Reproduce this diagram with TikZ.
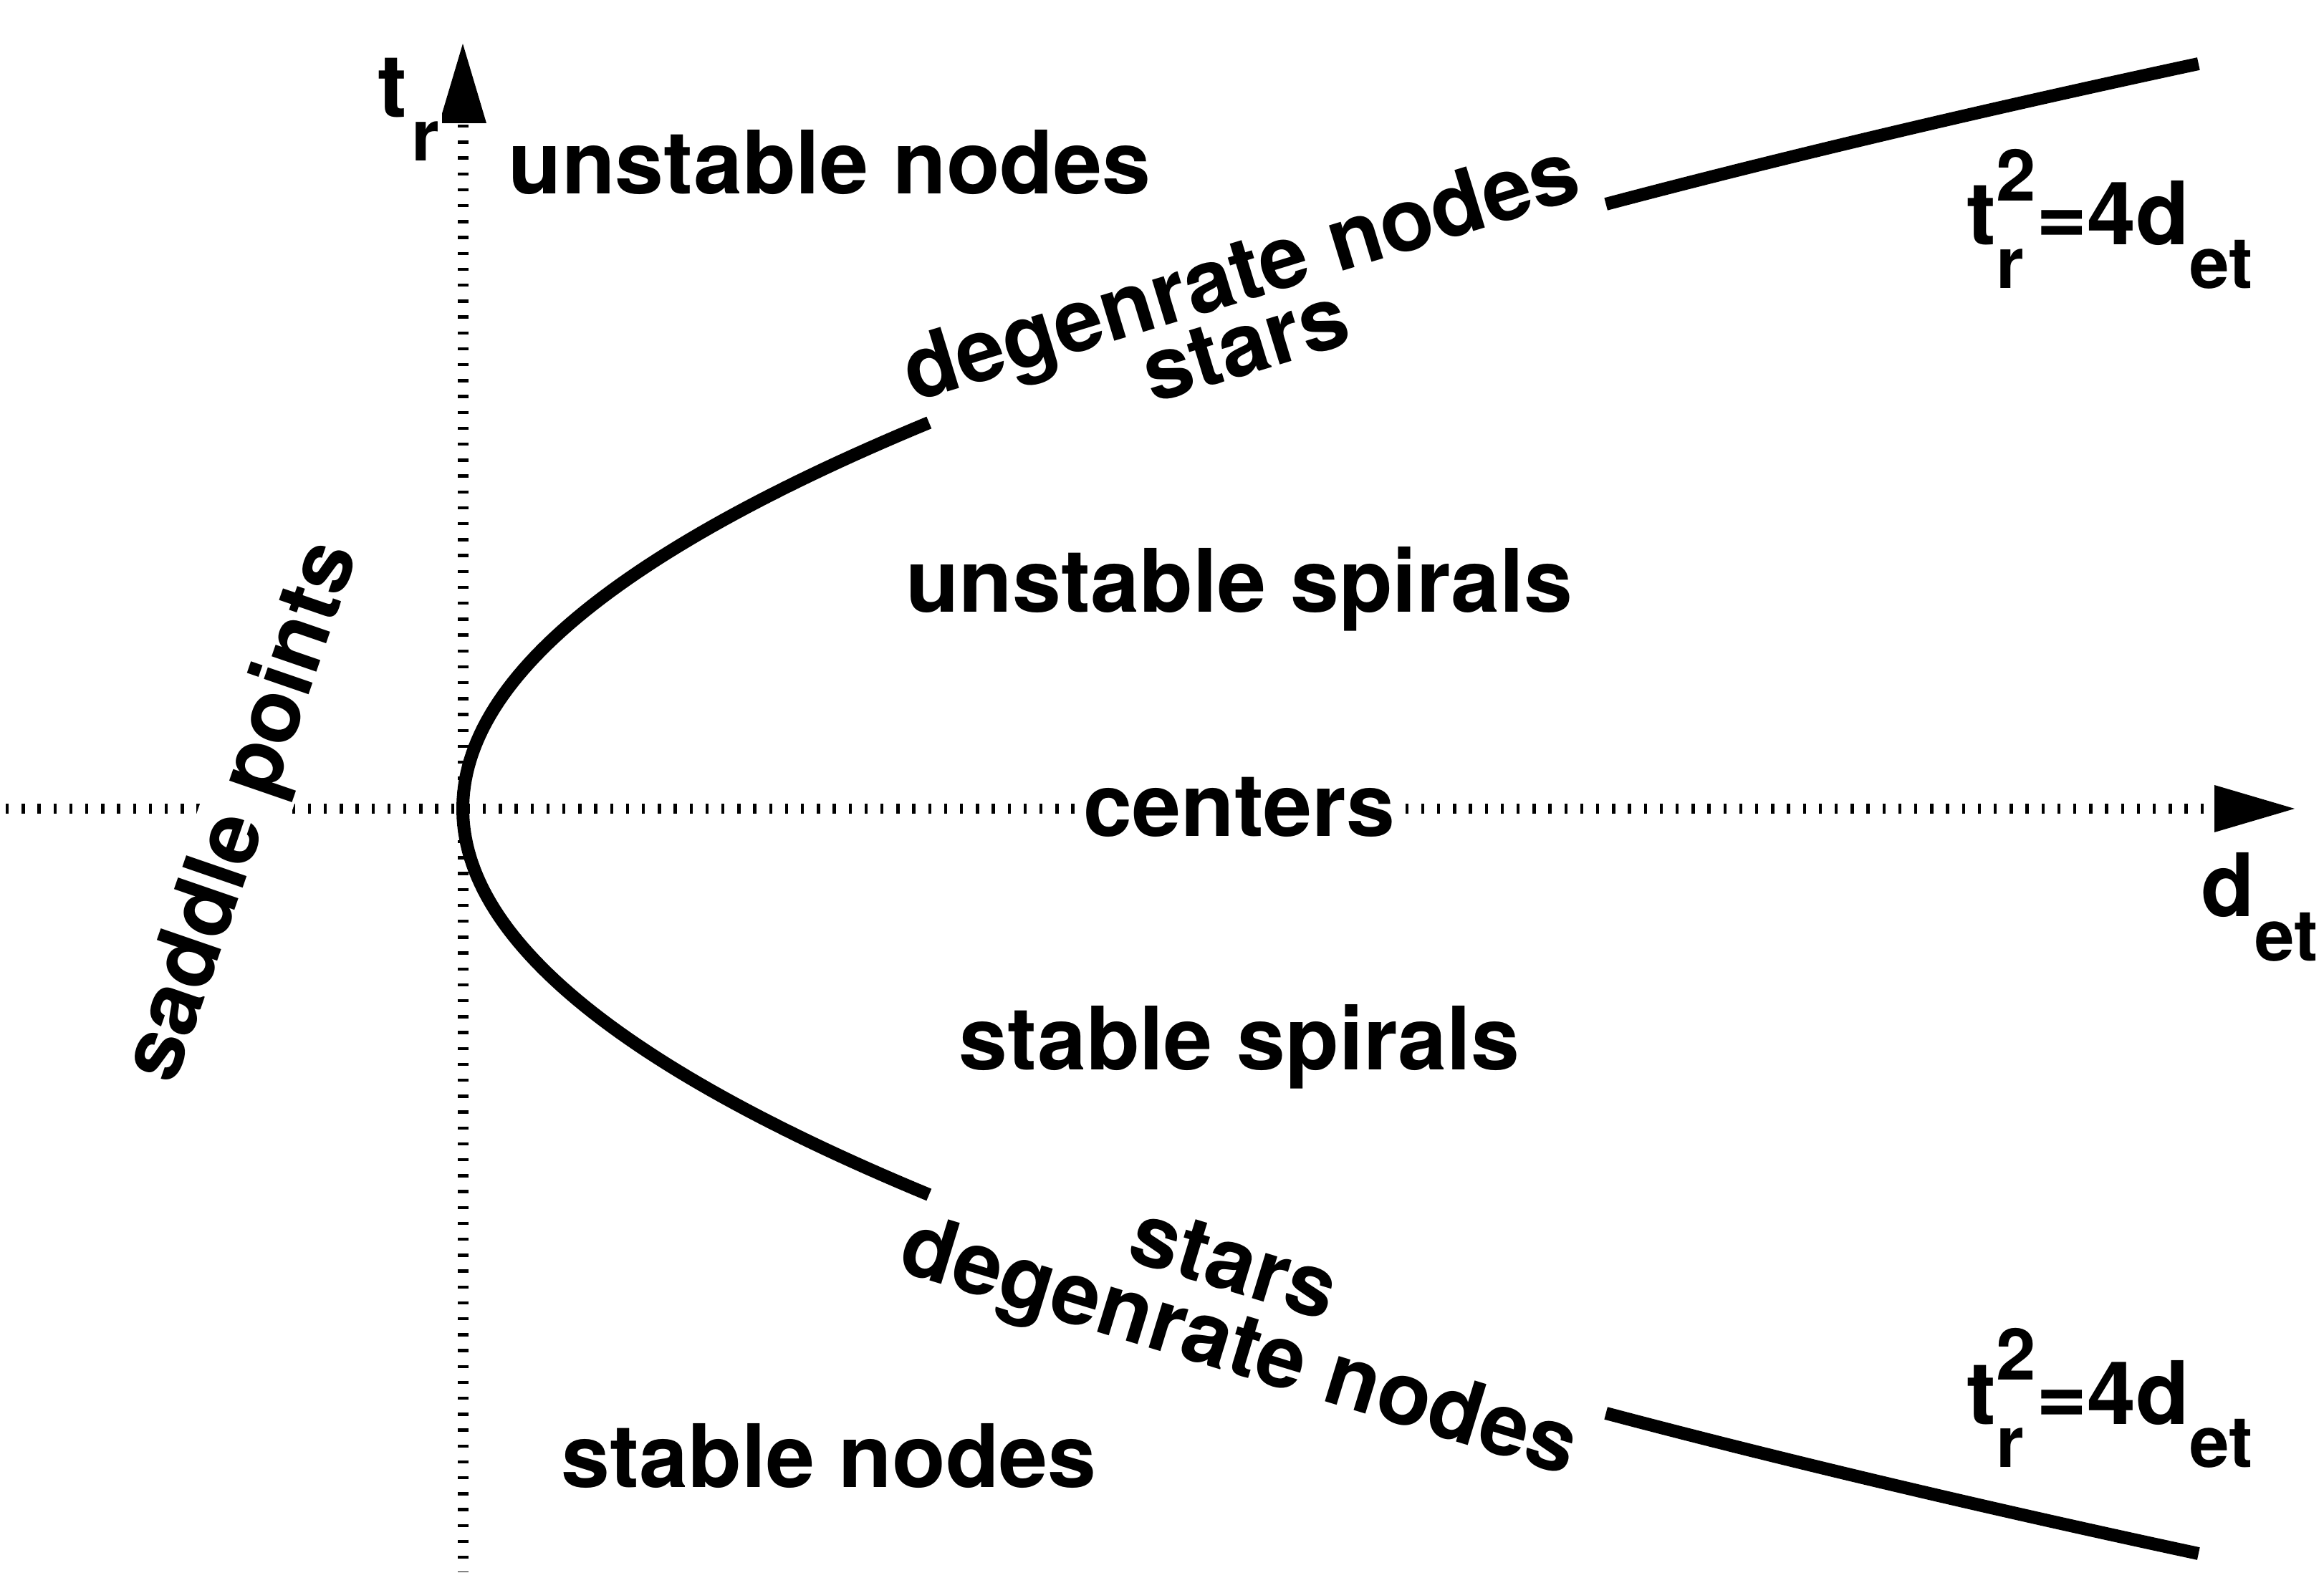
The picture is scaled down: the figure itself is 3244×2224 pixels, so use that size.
\documentclass[tikz,border=0pt]{standalone}
\usepackage{fontspec}
\setmainfont{TeX Gyre Heros}
\newcommand{\mainf}{\bfseries\fontsize{17.4pt}{20pt}\selectfont}
\newcommand{\subf}{\bfseries\fontsize{14.2pt}{16pt}\selectfont}
\begin{document}
\begin{tikzpicture}[x=0.005cm,y=-0.005cm,
  lbl/.style={font=\mainf, inner sep=0.5pt, fill=white},
  axisline/.style={line width=0.075cm, dash pattern=on 0.0225cm off 0.0886cm},
  curveline/.style={line width=0.09cm},
  tipshape/.style={fill=black}]
\useasboundingbox (0,0) rectangle (3244,2224);
% axes
\coordinate (hstart) at (8,1129);
\coordinate (hend) at (3091,1129);
\coordinate (vstart) at (646,174);
\coordinate (vend) at (646,2195);
\draw[axisline] (hstart) -- (hend);
\draw[axisline] (vstart) -- (vend);
\fill[tipshape] (3091,1096) -- (3203,1129) -- (3091,1162) -- cycle;
\fill[tipshape] (613,172) -- (646,61) -- (679,172) -- cycle;
% labels
\node (un) [lbl, anchor=base] at (1158,271) {unstable nodes};
\node (us) [lbl, anchor=base] at (1730,855) {unstable spirals};
\node (ce) [lbl, anchor=base] at (1730,1167) {centers};
\node (ss) [lbl, anchor=base] at (1730,1493) {stable spirals};
\node (sn) [lbl, anchor=base] at (1157,2076) {stable nodes};
\node (sp) [lbl, rotate=71] at (341,1134) {saddle points};
\node (dnu) [lbl, rotate=17] at (1734,389) {degenrate nodes};
\node (stu) [lbl, rotate=17] at (1738,482) {stars};
\node (stl) [lbl, rotate=-17] at (1723,1763) {stars};
\node (dnl) [lbl, rotate=-17] at (1728,1887) {degenrate nodes};
\node (tr) [lbl, anchor=base west] at (523,164) {t\hspace{0.3mm}\raisebox{-3.05mm}{\subf r}};
\node (det) [lbl, anchor=base west] at (3068,1279) {d\raisebox{-3.15mm}{\subf et}};
\node (equ) [lbl, anchor=base west] at (2741,342) {t\rlap{\raisebox{-3.05mm}{\subf r}}\raisebox{3.1mm}{\subf 2}=4d\raisebox{-3.05mm}{\subf et}};
\node (eql) [lbl, anchor=base west] at (2741,1988) {t\rlap{\raisebox{-3.05mm}{\subf r}}\raisebox{3.1mm}{\subf 2}=4d\raisebox{-3.05mm}{\subf et}};
% parabola t^2 = 4 d
\draw[curveline] plot[domain=-539:539, samples=120] ({646+22.4*(\x/100)*(\x/100)}, {1129+\x});
\draw[curveline] plot[domain=-1040:-844, samples=30] ({646+22.4*(\x/100)*(\x/100)}, {1129+\x});
\draw[curveline] plot[domain=844:1040, samples=30] ({646+22.4*(\x/100)*(\x/100)}, {1129+\x});
\end{tikzpicture}
\end{document}
